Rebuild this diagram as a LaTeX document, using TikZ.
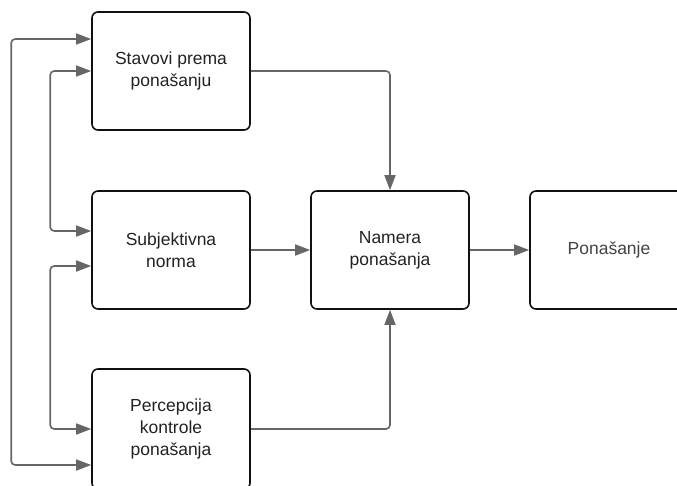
\documentclass[tikz,border=0pt]{standalone}
\usepackage{fontspec}
\setmainfont{Liberation Sans}
\usetikzlibrary{arrows.meta}
\definecolor{linkgray}{HTML}{666666}
\definecolor{boxline}{HTML}{111111}
\definecolor{textgray}{HTML}{222222}
\tikzset{
  box/.style={draw=boxline, line width=1.6pt, rounded corners=6pt,
    minimum width=158pt, minimum height=118pt, align=center,
    text=textgray, font=\fontsize{17.5}{22}\selectfont},
  link/.style={draw=linkgray, line width=1.6pt, rounded corners=4pt,
    -{Triangle[length=15pt,width=11pt]}},
  twoway/.style={link, {Triangle[length=15pt,width=11pt]}-{Triangle[length=15pt,width=11pt]}}
}
\begin{document}
\begin{tikzpicture}[x=1pt,y=-1pt]
      \clip (0,0) rectangle (677,485);
      \useasboundingbox (0,0) rectangle (677,485);
      \draw
        (171,71) node[box] (stav){Stavovi prema\\ponašanju}
        (171,250) node[box] (subj){Subjektivna\\norma}
        (171,429) node[box, minimum height=120pt] (perc){Percepcija\\kontrole\\ponašanja}
        (390,250) node[box] (namera){Namera\\ponašanja}
        (609,250) node[box, text=textgray!85] (pon){Ponašanje};
      \begin{scope}[link]
        \draw (stav.east) -| (namera.north);
        \draw (subj.east) -- (namera.west);
        \draw (perc.east) -| (namera.south);
        \draw (namera.east) -- (pon.west);
      \end{scope}
      \begin{scope}[twoway]
        \draw ([yshift=32pt]stav.west) -- ++(-80pt,0) |- ([yshift=-36pt]perc.west);
        \draw (stav.west) -- ++(-41pt,0) |- ([yshift=19pt]subj.west);
        \draw ([yshift=-16pt]subj.west) -- ++(-41pt,0) |- (perc.west);
      \end{scope}
    \end{tikzpicture}
\end{document}
